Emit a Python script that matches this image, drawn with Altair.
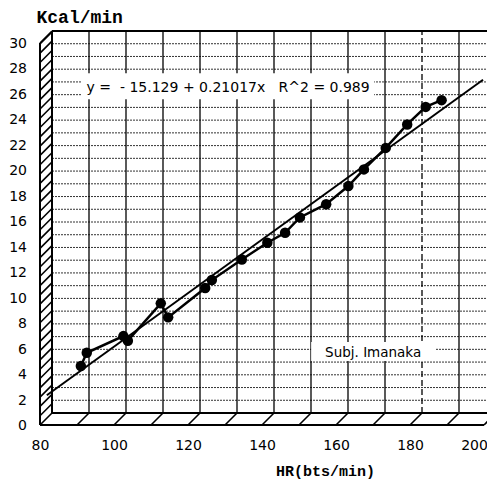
import altair as alt
import pandas as pd
import numpy as np

# ---- data ----
hr = [87.8, 89.4, 99.3, 100.5, 109.4, 111.4, 121.4, 123.2, 131.3, 138.2,
      143.0, 147.0, 154.1, 160.1, 164.3, 170.2, 176.0, 181.0, 185.3]
kcal = [3.69, 4.73, 6.04, 5.68, 8.61, 7.51, 9.81, 10.44, 12.06, 13.37,
        14.15, 15.36, 16.40, 17.82, 19.13, 20.82, 22.66, 24.04, 24.57]

x_ticks = [80, 100, 120, 140, 160, 180, 200]
y_ticks = list(range(0, 31, 2))
x_grid = [90, 100, 110, 120, 130, 140, 150, 160, 170, 180, 190]
x_grid_dashed = [180]
y_grid = list(range(1, 30))

intercept = -15.129
slope = 0.21017
fit_x = [78.6, 196.5]

equation = "y =\u00a0\u00a0- 15.129 + 0.21017x\u00a0\u00a0\u00a0R^2 = 0.989"
eq_pos = [127.6, 25.5]
subject = "Subj. Imanaka"
subj_pos = [166.8, 4.71]
x_title = "HR(bts/min)"
y_title = "Kcal/min"

XMIN, XMAX = 80, 200
YMIN, YMAX = 0, 30
RANGE_W, H = 444, 382   # full extent of the back plane in px
W = 435                 # visible view width (page is narrower than the plane)
D = 12  # depth of the 3-D box in pixels

xs = alt.Scale(domain=[XMIN, XMAX], range=[0, RANGE_W], nice=False, zero=False)
ys = alt.Scale(domain=[YMIN, YMAX], nice=False, zero=False)
LBL = "DejaVu Sans"

pts = pd.DataFrame({"hr": hr, "kcal": kcal})
fit = pd.DataFrame({"x": fit_x, "y": [intercept + slope * v for v in fit_x]})

x_axis = alt.Axis(values=x_ticks, title=x_title, offset=D,
                  labelOffset={"expr": f"datum.value == {XMAX} ? -22 : -{D}"},
                  domain=False, ticks=False, tickSize=0, grid=False,
                  labelPadding=13, labelFont=LBL, labelFontSize=14, labelColor="black",
                  labelFlush=False, labelOverlap=False, labelBound=False,
                  titleFont="Liberation Mono", titleFontWeight="bold", titleFontSize=15,
                  titleColor="black", titleX=273, titleY=45,
                  titleAlign="center", titleBaseline="middle")
y_axis = alt.Axis(values=y_ticks, title=y_title, offset=D, labels=False,
                  domain=False, ticks=False, tickSize=0, grid=False,
                  titleFont="Liberation Mono", titleFontWeight="bold", titleFontSize=18,
                  titleColor="black", titleAngle=0, titleX=-4, titleY=-14,
                  titleAlign="left", titleBaseline="middle")

# horizontal dotted grid (carries the axes)
hgrid = alt.Chart(pd.DataFrame({"y": y_grid, "x": XMIN, "x2": XMAX})).mark_rule(
    color="#333", strokeWidth=1, strokeDash=[2, 1]
).encode(x=alt.X("x:Q", scale=xs, axis=x_axis), x2="x2:Q",
         y=alt.Y("y:Q", scale=ys, axis=y_axis))

# y tick labels, placed on the front edge of the 3-D box
ylab = alt.Chart(pd.DataFrame({"y": y_ticks, "x": XMIN})).mark_text(
    font=LBL, fontSize=14, color="black", align="right", baseline="middle",
    xOffset=-(D + 13), yOffset=D + 1
).encode(x=alt.X("x:Q", scale=xs), y=alt.Y("y:Q", scale=ys), text="y:Q")

vg = pd.DataFrame({"x": x_grid, "y": YMIN, "y2": YMAX})
vg["dash"] = vg["x"].isin(x_grid_dashed)
vgrid_solid = alt.Chart(vg[~vg["dash"]]).mark_rule(color="black", strokeWidth=1.3).encode(
    x=alt.X("x:Q", scale=xs), y=alt.Y("y:Q", scale=ys), y2="y2:Q")
vgrid_dash = alt.Chart(vg[vg["dash"]]).mark_rule(color="black", strokeWidth=1.3,
                                                 strokeDash=[6, 3]).encode(
    x=alt.X("x:Q", scale=xs), y=alt.Y("y:Q", scale=ys), y2="y2:Q")

# back plane edges
back = pd.DataFrame({
    "x": [XMIN, XMIN, XMIN, XMAX],
    "y": [YMIN, YMAX, YMIN, YMIN],
    "x2": [XMIN, XMAX, XMAX, XMAX],
    "y2": [YMAX, YMAX, YMIN, YMAX],
})
back_edges = alt.Chart(back).mark_rule(color="black", strokeWidth=2).encode(
    x=alt.X("x:Q", scale=xs), y=alt.Y("y:Q", scale=ys), x2="x2:Q", y2="y2:Q")

# front edges (shifted left/down by the depth)
front = pd.DataFrame({"x": [XMIN, XMIN], "y": [YMIN, YMIN],
                      "x2": [XMIN, XMAX], "y2": [YMAX, YMIN]})
front_edges = alt.Chart(front).mark_rule(
    color="black", strokeWidth=2, xOffset=-D, x2Offset=-D, yOffset=D, y2Offset=D
).encode(x=alt.X("x:Q", scale=xs), y=alt.Y("y:Q", scale=ys), x2="x2:Q", y2="y2:Q")

# depth lines: wall hatching, wall top, floor separators
hatch_y = list(np.arange(YMIN + 0.73, YMAX, 0.73)) + [YMAX]
floor_x = list(range(XMIN, XMAX + 1, 10))
depth = pd.DataFrame({
    "x": [XMIN] * len(hatch_y) + floor_x,
    "y": hatch_y + [YMIN] * len(floor_x),
})
depth_lines = alt.Chart(depth).mark_rule(
    color="black", strokeWidth=1.6, xOffset=-D, yOffset=D
).encode(x=alt.X("x:Q", scale=xs), y=alt.Y("y:Q", scale=ys), x2="x:Q", y2="y:Q")

# annotation boxes and texts
eq_df = pd.DataFrame({"x": [eq_pos[0]], "y": [eq_pos[1]], "t": [equation]})
eq_box = alt.Chart(eq_df).mark_rect(color="white", xOffset=-147, x2Offset=146,
                                    yOffset=-15, y2Offset=11).encode(
    x=alt.X("x:Q", scale=xs), x2="x:Q", y=alt.Y("y:Q", scale=ys), y2="y:Q")
eq_text = alt.Chart(eq_df).mark_text(font=LBL, fontSize=14, color="black",
                                     align="center", baseline="middle").encode(
    x=alt.X("x:Q", scale=xs), y=alt.Y("y:Q", scale=ys), text="t:N")

sb_df = pd.DataFrame({"x": [subj_pos[0]], "y": [subj_pos[1]], "t": [subject]})
sb_box = alt.Chart(sb_df).mark_rect(color="white", xOffset=-62, x2Offset=62,
                                    yOffset=-11, y2Offset=8).encode(
    x=alt.X("x:Q", scale=xs), x2="x:Q", y=alt.Y("y:Q", scale=ys), y2="y:Q")
sb_text = alt.Chart(sb_df).mark_text(font=LBL, fontSize=13.5, color="black",
                                     align="center", baseline="middle").encode(
    x=alt.X("x:Q", scale=xs), y=alt.Y("y:Q", scale=ys), text="t:N")

fit_line = alt.Chart(fit).mark_line(color="black", strokeWidth=2).encode(
    x=alt.X("x:Q", scale=xs), y=alt.Y("y:Q", scale=ys))

data_line = alt.Chart(pts).mark_line(
    color="black", strokeWidth=2.5,
    point=alt.OverlayMarkDef(filled=True, color="black", size=110, opacity=1)
).encode(x=alt.X("hr:Q", scale=xs), y=alt.Y("kcal:Q", scale=ys))

chart = alt.layer(
    hgrid, ylab, vgrid_solid, vgrid_dash, eq_box, sb_box, back_edges, front_edges,
    depth_lines, eq_text, sb_text, fit_line, data_line
).properties(
    width=W, height=H,
    autosize=alt.AutoSizeParams(type="none"),
    padding={"left": 44, "top": 23, "right": 0, "bottom": 70},
).configure_view(stroke=None).configure_axis(
    labelOverlap=False, labelFlush=False, labelBound=False
)

chart.save("out.html", embed_options={"renderer": "svg", "actions": False})
